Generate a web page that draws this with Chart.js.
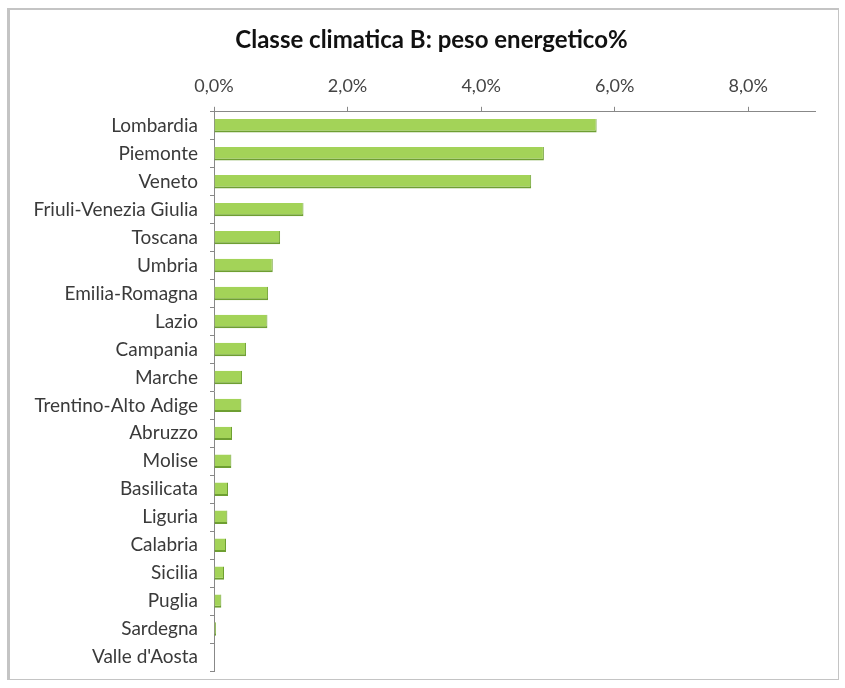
<!DOCTYPE html>
<html>
<head>
<meta charset="utf-8">
<script src="https://cdn.jsdelivr.net/npm/chart.js@4"></script>
<style>
  body { margin: 0; background: #fff; }
  #wrap { position: relative; width: 845px; height: 688px; }
  #frame { position: absolute; left: 7px; top: 8px; width: 832px; height: 672px; border: 1px solid #c4c4c4; border-width: 2px 1px 1px 3px; box-sizing: border-box; }
  canvas { position: absolute; left: 0; top: 0; }
</style>
</head>
<body>
<div id="wrap">
  <div id="frame"></div>
  <canvas id="grafico" width="845" height="688"></canvas>
</div>
<script>
  const regioni = [
    "Lombardia", "Piemonte", "Veneto", "Friuli-Venezia Giulia", "Toscana",
    "Umbria", "Emilia-Romagna", "Lazio", "Campania", "Marche",
    "Trentino-Alto Adige", "Abruzzo", "Molise", "Basilicata", "Liguria",
    "Calabria", "Sicilia", "Puglia", "Sardegna", "Valle d'Aosta"
  ];
  const pesoEnergetico = [
    5.73, 4.94, 4.75, 1.34, 0.99,
    0.88, 0.81, 0.80, 0.48, 0.42,
    0.41, 0.27, 0.26, 0.21, 0.20,
    0.18, 0.15, 0.11, 0.03, 0.0
  ];
  const titolo = "Classe climatica B: peso energetico%";

  const fontBase = "Lato, 'Open Sans', sans-serif";

  // sposta il titolo un po' a destra come nell'originale
  const spostaTitolo = {
    id: 'spostaTitolo',
    afterLayout(chart) {
      if (chart.titleBlock) chart.titleBlock.left += 38;
    }
  };

  new Chart(document.getElementById("grafico"), {
    type: 'bar',
    data: {
      labels: regioni,
      datasets: [{
        label: 'peso energetico',
        data: pesoEnergetico,
        backgroundColor: '#a3d358',
        borderColor: '#6e9f32',
        borderWidth: { top: 0, left: 0, right: 1, bottom: 2 },
        borderSkipped: false,
        categoryPercentage: 0.48,
        barPercentage: 1.0
      }]
    },
    options: {
      indexAxis: 'y',
      responsive: false,
      animation: false,
      layout: { padding: { left: 10, right: 30, top: 0, bottom: 17 } },
      plugins: {
        legend: { display: false },
        tooltip: { enabled: false },
        title: {
          display: true,
          text: titolo,
          color: '#111',
          font: { family: fontBase, size: 24, weight: 'bold' },
          padding: { top: 26, bottom: 8 }
        }
      },
      scales: {
        x: {
          position: 'top',
          min: 0,
          max: 9,
          afterBuildTicks: (axis) => {
            axis.ticks = axis.ticks.filter(t => t.value % 2 === 0);
          },
          afterFit: (scale) => { scale.height = 49; },
          ticks: {
            stepSize: 2,
            padding: 10,
            color: '#444',
            font: { family: fontBase, size: 18 },
            callback: (v) => v.toFixed(1).replace('.', ',') + '%'
          },
          grid: { drawOnChartArea: false, drawTicks: true, tickLength: 5, color: '#888' },
          border: { display: true, color: '#888' }
        },
        y: {
          afterFit: (scale) => {
            scale.width = 204;
            scale.paddingTop = 0;
            scale.paddingBottom = 0;
          },
          ticks: {
            padding: 12,
            color: '#3a3a3a',
            font: { family: fontBase, size: 19 }
          },
          grid: { offset: true, drawOnChartArea: false, drawTicks: true, tickLength: 4, color: '#888' },
          border: { display: true, color: '#888' }
        }
      }
    },
    plugins: [spostaTitolo]
  });
</script>
</body>
</html>
